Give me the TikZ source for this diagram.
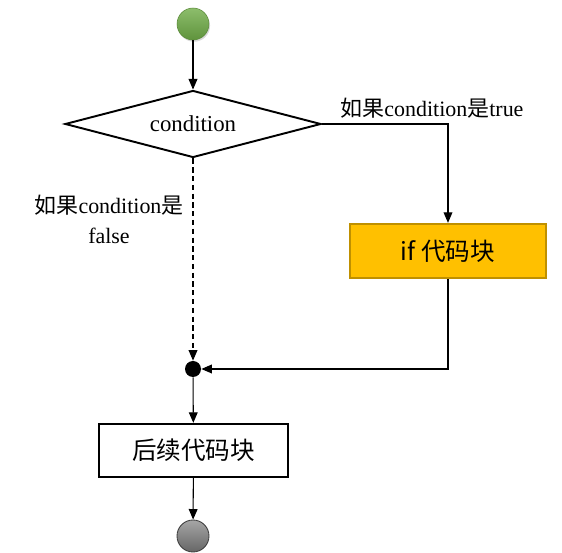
\documentclass[tikz,border=0pt]{standalone}
\usepackage{fontspec}
\setmainfont{Liberation Serif}
\newfontfamily\cjk{Noto Sans CJK SC}
\usetikzlibrary{shapes.geometric,arrows.meta,shadows}

\definecolor{startgreen}{RGB}{112,173,71}
\definecolor{ifgold}{RGB}{255,192,0}
\definecolor{ifedge}{RGB}{191,144,0}

\tikzset{
  flow/.style={draw, line width=0.6pt, -{Triangle[length=6pt,width=5pt]}},
  startdot/.style={circle, minimum size=0.64cm, inner sep=0pt,
    top color=startgreen!80!white, bottom color=startgreen!85!black,
    draw=startgreen!80!black, line width=0.3pt,
    drop shadow={shadow xshift=0.6pt, shadow yshift=-1pt, opacity=0.3}},
  enddot/.style={circle, minimum size=0.64cm, inner sep=0pt,
    top color=black!35, bottom color=black!60, draw=black!75, line width=0.5pt},
  joindot/.style={circle, fill=black, minimum size=0.32cm, inner sep=0pt},
  decision/.style={diamond, draw, line width=1.1pt, aspect=3.82, inner sep=0pt,
    minimum width=5.12cm, minimum height=1.34cm, font=\fontsize{13}{15}\selectfont},
  ifblock/.style={rectangle, draw=ifedge, fill=ifgold, line width=1.3pt,
    minimum width=3.92cm, minimum height=1.08cm, font=\cjk\fontsize{14}{16}\selectfont},
  block/.style={rectangle, draw, line width=1.3pt,
    minimum width=3.78cm, minimum height=1.06cm, font=\cjk\fontsize{14}{16}\selectfont},
  lbl/.style={font=\fontsize{12.5}{15}\selectfont, inner sep=0pt}
}

\begin{document}
\begin{tikzpicture}[x=0.02cm, y=-0.02cm]
  \useasboundingbox (0,0) rectangle (562,553);

  % nodes
  \node[startdot] (start) at (193,24) {};
  \node[decision] (cond) at (193,124) {condition};
  \node[ifblock] (ifb) at (448,251) {if 代码块};
  \node[joindot] (join) at (193,369) {};
  \node[block] (next) at (193.5,450.5) {后续代码块};
  \node[enddot] (end) at (193,536) {};

  % labels
  \node[lbl] (truelbl) at (432,108) {{\cjk 如果}condition{\cjk 是}true};
  \node[lbl, align=center] (falselbl) at (109,219)
    {{\cjk 如果}condition{\cjk 是}\\[2pt]false};

  % connectors
  \draw[flow] (start) -- (cond);
  \draw[flow] (cond.east) -| (ifb.north);
  \draw[flow] (ifb.south) |- (join);
  \draw[flow, dash pattern=on 3pt off 2pt] (cond.south) -- (join);
  \draw[flow] (join) -- (next);
  \draw[flow] (next) -- (end);
\end{tikzpicture}
\end{document}
